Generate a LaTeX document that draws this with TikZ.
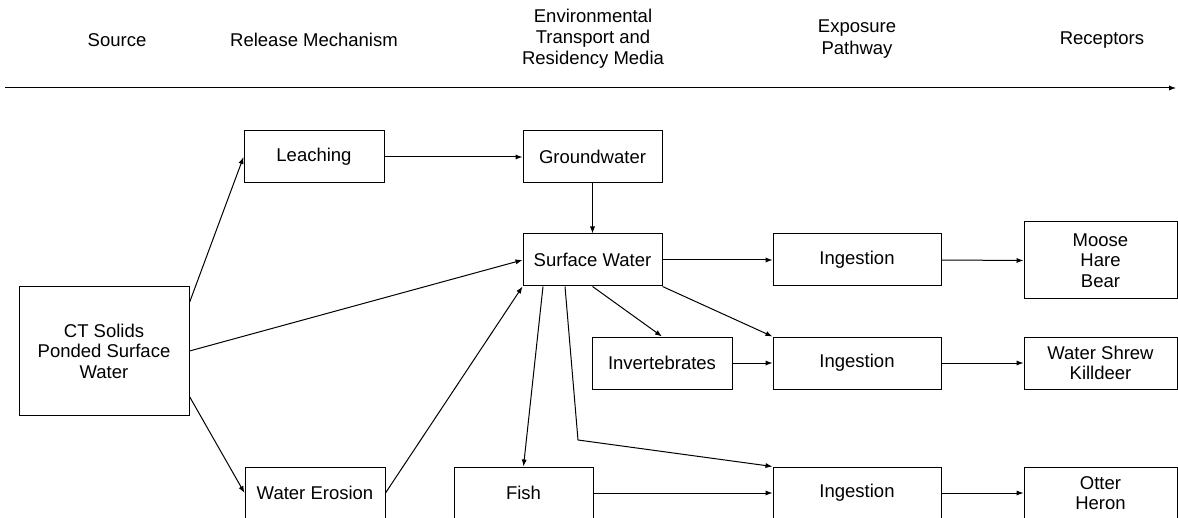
\documentclass[tikz,border=0pt]{standalone}
\usepackage{fontspec}
\setmainfont{Liberation Sans}
\usetikzlibrary{arrows.meta}

\begin{document}
\begin{tikzpicture}[x = 0.5pt, y = -0.5pt,
  font = \fontsize{9.25}{10.3}\selectfont,
  box/.style = {draw, line width = 0.5pt, inner sep = 0pt, align = center,
    minimum width = 70pt, minimum height = 26pt},
  head/.style = {align = center, font = \fontsize{9.25}{10.6}\selectfont},
  link/.style = {draw, line width = 0.5pt, -{Latex[length = 3.5pt, width = 2.6pt]}}]
\useasboundingbox (0, 0) rectangle (1178, 518);

\node[head] (hsrc) at (117, 40) {Source};
\node[head] (hrel) at (314, 40) {Release Mechanism};
\node[head] (henv) at (593, 39) {Environmental\\Transport and\\Residency Media};
\node[head] (hexp) at (857, 39) {Exposure\\Pathway};
\node[head] (hrec) at (1102, 40) {Receptors};
\coordinate (hl) at (5, 88);
\coordinate (hr) at (1176, 88);
\draw[link] (hl) -- (hr);

\node[box, minimum width = 85pt, minimum height = 64pt] (src) at (104, 351) {CT Solids\\Ponded Surface\\Water};
\node[box] (leach) at (314, 157) {Leaching};
\node[box] (erosion) at (315, 493) {Water Erosion};
\node[box, minimum width = 69.5pt] (ground) at (592.5, 157) {Groundwater};
\node[box, minimum width = 69.5pt] (surf) at (592.5, 260) {Surface Water};
\node[box] (invert) at (662, 363) {Invertebrates};
\node[box, minimum width = 69.5pt] (fish) at (523.5, 493) {Fish};
\node[box, minimum width = 84pt] (ing1) at (857, 260) {Ingestion};
\node[box, minimum width = 84pt] (ing2) at (857, 363) {Ingestion};
\node[box, minimum width = 84pt] (ing3) at (857, 493) {Ingestion};
\node[box, minimum width = 76.5pt, minimum height = 38.5pt] (moose) at (1100.5, 260.5) {Moose\\Hare\\Bear};
\node[box, minimum width = 76.5pt] (shrew) at (1100.5, 363) {Water Shrew\\Killdeer};
\node[box, minimum width = 76.5pt] (otter) at (1100.5, 493) {Otter\\Heron};
\coordinate (bend) at (578, 440);

\draw[link] ([yshift = -8pt]src.north east) -- (leach.west);
\draw[link] (src.east) -- (surf.west);
\draw[link] ([yshift = 9.5pt]src.south east) -- (erosion.west);
\draw[link] (leach.east) -- (ground.west);
\draw[link] (erosion.east) -- (surf.south west);
\draw[link] (ground.south) -- (surf.north);
\draw[link] (surf.east) -- (ing1.west);
\draw[link] ([xshift = -24.75pt]surf.south) -- (fish.north);
\draw[link] ([xshift = -13.75pt]surf.south) -- (bend) -- (ing3.north west);
\draw[link] (surf.south) -- (invert.north);
\draw[link] (surf.south east) -- (ing2.north west);
\draw[link] (invert.east) -- (ing2.west);
\draw[link] (fish.east) -- (ing3.west);
\draw[link] (ing1.east) -- (moose.west);
\draw[link] (ing2.east) -- (shrew.west);
\draw[link] (ing3.east) -- (otter.west);
\end{tikzpicture}
\end{document}
